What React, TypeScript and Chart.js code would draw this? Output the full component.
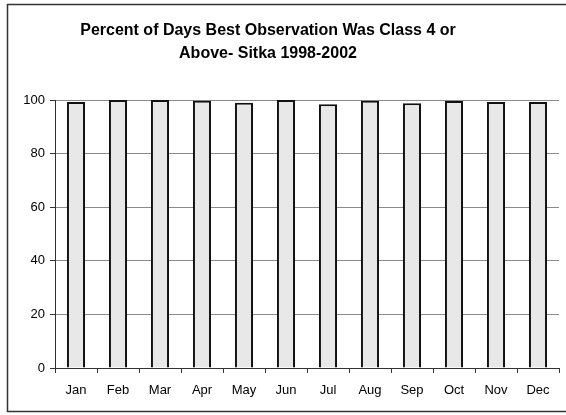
import React, { useEffect, useRef } from "react";
import { Chart, registerables } from "chart.js";

Chart.register(...registerables);

const titleLines = ["Percent of Days Best Observation Was Class 4 or", "Above- Sitka 1998-2002"];
const months = ["Jan", "Feb", "Mar", "Apr", "May", "Jun", "Jul", "Aug", "Sep", "Oct", "Nov", "Dec"];
const percentValues = [99.3, 100, 100, 99.7, 99.0, 100, 98.4, 99.7, 98.8, 99.6, 99.3, 99.3];
const yTicks = [0, 20, 40, 60, 80, 100];

const framePlugin = {
  id: "frameAndTitle",
  afterDraw(chart: any) {
    const ctx = chart.ctx;
    ctx.save();
    ctx.strokeStyle = "#333";
    ctx.lineWidth = 1.5;
    ctx.beginPath();
    ctx.moveTo(570, 4.5);
    ctx.lineTo(7.5, 4.5);
    ctx.lineTo(7.5, 411.5);
    ctx.lineTo(570, 411.5);
    ctx.stroke();
    ctx.fillStyle = "#000";
    ctx.font = "bold 16px Arial, 'Liberation Sans', sans-serif";
    ctx.textAlign = "center";
    ctx.textBaseline = "alphabetic";
    ctx.fillText(titleLines[0], 268, 35);
    ctx.fillText(titleLines[1], 268, 58);
    ctx.restore();
  },
};

export default function App() {
  const ref = useRef<HTMLCanvasElement | null>(null);
  useEffect(() => {
    document.body.style.margin = "0";
    const canvas = ref.current!;
    const chart = new Chart(canvas, {
      type: "bar",
      data: {
        labels: months,
        datasets: [
          {
            data: percentValues,
            backgroundColor: "#e8e8e8",
            borderColor: "#111",
            borderWidth: { left: 2, right: 2, top: 2, bottom: 0 } as any,
            borderSkipped: "bottom",
            barPercentage: 0.43,
            categoryPercentage: 1,
          },
        ],
      },
      options: {
        responsive: false,
        animation: false,
        maintainAspectRatio: false,
        layout: { padding: { left: 0, right: 7, top: 100, bottom: 0 } },
        plugins: { legend: { display: false }, title: { display: false }, tooltip: { enabled: false } },
        scales: {
          x: {
            offset: true,
            grid: { display: true, drawOnChartArea: false, drawTicks: true, tickLength: 5, color: "#333", offset: true },
            border: { display: true, color: "#333", width: 1 },
            ticks: {
              color: "#000",
              font: { family: "Arial, 'Liberation Sans', sans-serif", size: 13 },
              padding: 10,
              maxRotation: 0,
              autoSkip: false,
            },
            afterFit(scale: any) {
              scale.height = 47;
            },
          },
          y: {
            min: 0,
            max: 100,
            afterBuildTicks(scale: any) {
              scale.ticks = yTicks.map((v) => ({ value: v }));
            },
            grid: { color: "#8a8a8a", lineWidth: 1, drawTicks: true, tickLength: 5, tickColor: "#333" },
            border: { display: true, color: "#333", width: 1 },
            ticks: {
              color: "#000",
              font: { family: "Arial, 'Liberation Sans', sans-serif", size: 13 },
              padding: 5,
            },
            afterFit(scale: any) {
              scale.width = 55;
            },
          },
        },
      },
      plugins: [framePlugin],
    });
    return () => chart.destroy();
  }, []);
  return (
    <div style={{ width: 566, height: 415 }}>
      <canvas ref={ref} width={566} height={415} style={{ display: "block" }} />
    </div>
  );
}
